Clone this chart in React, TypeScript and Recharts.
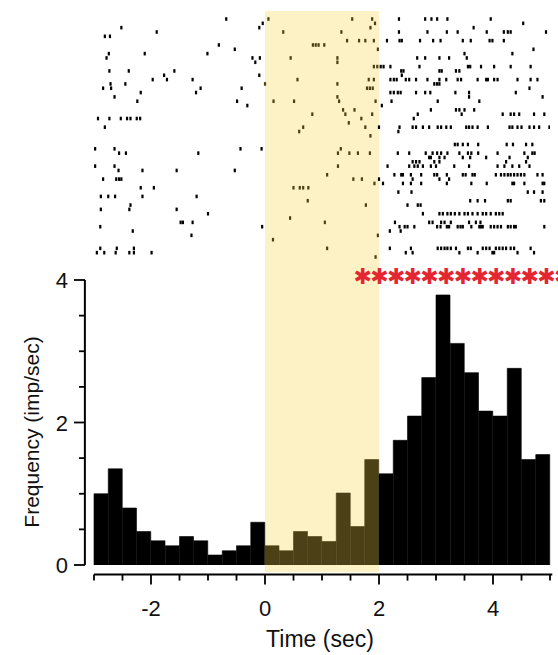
import React from 'react';
import {
  ScatterChart,
  Scatter,
  BarChart,
  Bar,
  Cell,
  XAxis,
  YAxis,
  ReferenceArea,
  ReferenceLine,
  Customized,
} from 'recharts';

// PSTH bins (bin start, sec) and firing rate (imp/sec)
const binStarts = [
  -3, -2.75, -2.5, -2.25, -2, -1.75, -1.5, -1.25, -1, -0.75, -0.5, -0.25,
  0, 0.25, 0.5, 0.75, 1, 1.25, 1.5, 1.75, 2, 2.25, 2.5, 2.75,
  3, 3.25, 3.5, 3.75, 4, 4.25, 4.5, 4.75,
];
const rates = [
  1.0, 1.35, 0.8, 0.47, 0.34, 0.27, 0.4, 0.34, 0.14, 0.2, 0.27, 0.6,
  0.27, 0.2, 0.47, 0.4, 0.33, 1.01, 0.54, 1.48, 1.28, 1.75, 2.09, 2.63,
  3.79, 3.11, 2.7, 2.16, 2.09, 2.76, 1.48, 1.55,
];

const xTicks = [-3, -2.5, -2, -1.5, -1, -0.5, 0, 0.5, 1, 1.5, 2, 2.5, 3, 3.5, 4, 4.5, 5];
const yTicks = [0, 0.5, 1, 1.5, 2, 2.5, 3, 3.5, 4];
const stimWindow = [0, 2];
const sigStarCount = 13;

// spike times (sec) per trial, top row first
const spikeTimes: number[][] = [
  [-0.68, 0.06, 1.53, 1.88, 2.35, 2.81, 2.92, 3.02, 3.2, 3.96],
  [-0.04, 1.93, 4.53],
  [-2.52, -0.1, 1.85, 3.66],
  [-1.9, 0.32, 1.34, 2.35, 2.85, 3.19, 3.38, 3.89, 4.19, 4.26, 4.31, 4.93],
  [-2.81, -2.72],
  [1.44, 1.65, 1.76, 1.91, 2.14, 2.36, 2.4, 2.72, 2.95, 3.08, 3.47, 3.61, 3.94, 3.99, 4.19],
  [-0.81, 0.84, 0.89, 0.94, 1.04],
  [-0.53, 1.98, 4.71],
  [-2.74, -2.11, -1.01, 3.5, 4.34],
  [-2.78, -0.22, -0.09, 0.45, 1.27, 2.67, 2.81, 3.06, 3.23, 3.54],
  [-0.17, 1.27],
  [1.91, 1.97, 2.03, 2.08, 2.2, 2.71, 3.56, 3.6, 3.79, 4.02, 4.31, 4.66],
  [-2.73, -2.39, -1.59, 2.39, 2.43, 3.06, 3.1, 3.35, 3.41],
  [-1.77, -0.1, 2.4],
  [-1.97, -1.72, -1.27, 0.57, 1.82, 1.91, 2.2, 2.26, 2.31, 2.47, 2.53, 2.65, 2.85, 3.06, 3.18, 3.38, 3.44, 3.73, 3.88, 3.91, 4.02, 4.08, 4.43, 4.66, 4.78],
  [-2.71, -2.45, 0.0, 1.27, 2.97, 3.02, 3.06],
  [-2.84, -2.7, -1.13, -0.41, 1.79, 1.84, 1.89, 4.64],
  [-2.18, -1.21, 2.2, 2.26, 2.33, 2.38, 2.65, 2.81, 2.9, 3.34, 3.58, 4.4],
  [-2.64, 1.27, 3.58, 4.87],
  [-2.24, -0.49, 0.15, 0.51, 1.3, 1.94, 2.22, 3.03, 3.76],
  [-0.31, 2.05],
  [1.37, 1.57, 2.91, 3.35, 3.41, 3.5, 3.67],
  [0.83, 1.41, 1.88, 2.68, 3.45, 4.17, 4.31, 4.37, 4.46, 4.72, 4.9],
  [-2.93, -2.73, -2.53, -2.42, -2.36, -2.25, -2.19, 1.69, 2.61],
  [1.47],
  [-2.81, 0.67, 1.76, 2.0, 2.36, 2.59, 2.65, 2.77, 2.88, 3.03, 3.09, 3.18, 3.26, 3.53, 3.58, 3.64, 3.73, 3.91, 4.29, 4.34, 4.43, 4.5, 4.64, 4.72, 4.81, 4.99],
  [0.6, 2.34],
  [1.85],
  [],
  [3.33, 3.38, 3.47, 3.56, 3.74, 4.24, 4.35, 4.58, 4.69],
  [-2.98, -2.64, -0.43, -0.06, 1.33],
  [-2.56, -2.44, -1.17, 1.28, 1.48, 1.63, 1.84, 2.33, 2.53, 2.82, 2.94, 3.02, 3.09, 3.2, 3.41, 3.56, 3.62, 3.74, 4.08, 4.55, 4.69, 4.73],
  [2.88, 2.91, 3.06, 3.15, 3.47, 3.6, 3.88, 4.29, 4.61],
  [2.59, 2.65, 2.71, 2.97, 3.06, 4.23, 4.58],
  [-2.98, -2.64, 1.28, 2.15, 2.53, 2.62, 2.68, 2.77, 2.91, 3.0, 3.32, 3.58, 4.08, 4.2, 4.34, 4.46, 4.64],
  [-2.57, -2.15, -1.55, -0.53],
  [1.09, 2.27, 2.39, 2.42, 2.56, 2.74, 2.97, 3.02, 3.19, 3.47, 3.52, 3.64, 3.68, 4.05, 4.14, 4.2, 4.26, 4.31, 4.37, 4.43, 4.49, 4.55, 4.78, 4.87],
  [-2.84, -2.61, -2.56, -2.52, 1.55, 1.7, 2.0, 2.59, 3.06, 3.23],
  [1.92, 2.07, 2.42, 2.56, 2.74, 3.19, 3.62, 3.89, 4.34, 4.37, 4.55, 4.87, 4.9],
  [-2.18, -1.95, 0.5, 0.61, 0.67, 0.76],
  [2.34, 2.57, 4.61, 4.72, 4.87],
  [-2.88, -2.75, -2.63, -2.15, -1.2],
  [0.75, 3.6, 3.73, 3.86, 4.26, 4.31, 4.84, 4.9],
  [-2.36, 1.77, 2.5, 2.68, 2.73],
  [-2.88, -2.38, -1.55],
  [-1.0, 2.77, 3.06, 3.12, 3.2, 3.26, 3.33, 3.41, 3.5, 3.56, 3.64, 3.73, 3.82, 3.88, 3.96, 4.05, 4.11, 4.17],
  [0.44],
  [-1.48, -1.44, -1.27, 1.05, 2.28, 2.88, 2.94, 3.09, 3.15, 3.26, 3.58, 3.7, 3.78],
  [-2.89, -0.05, 2.36, 2.45, 2.5, 2.62, 3.02, 3.08, 3.19, 3.23, 3.38, 3.43, 3.47, 3.62, 3.76, 3.79, 3.82, 3.96, 4.02, 4.08, 4.14, 4.26, 4.31, 4.37, 4.4, 4.9],
  [-2.32, 2.19, 2.38],
  [-1.29, 1.98],
  [0.14],
  [],
  [-2.89, -2.6, -2.3, 1.09, 2.19, 2.56, 3.03, 3.09, 3.15, 3.2, 3.26, 3.35, 3.56, 3.61, 3.82, 3.88, 3.94, 4.05, 4.11, 4.17, 4.23, 4.31, 4.37, 4.66],
  [-2.95, -2.82, -2.62, -2.38, -2.3, -1.99, 2.47, 2.59, 3.41, 3.73, 3.99, 4.02, 4.43, 4.72],
  [1.94],
];

const spikes = spikeTimes.flatMap((ts, trial) => ts.map((t) => ({ t, trial })));
const histData = binStarts.map((start, i) => ({ start, rate: rates[i] }));

const FONT = '"Liberation Sans", Arial, Helvetica, sans-serif';
const HIST_TOP = 265;
const X_AXIS_Y = 309.6; // offset axis, below the bars
const Y_AXIS_X = 85;
const BAND_FILL = '#fdf2c6';
const MARK_IN_BAND = '#4b4016';
const inBand = (t: number) => t >= stimWindow[0] && t < stimWindow[1];

const SpikeTick = (p: any) => (
  <rect
    x={p.cx - 1.1}
    y={p.cy - 1.8}
    width={2.2}
    height={3.6}
    fill={inBand(p.payload.t) ? MARK_IN_BAND : '#000'}
  />
);

const XTick = (props: any) => {
  const { x, payload } = props;
  const v = payload.value;
  const major = v % 2 === 0;
  return (
    <g>
      <line x1={x} x2={x} y1={X_AXIS_Y} y2={X_AXIS_Y + (major ? 10 : 6)} stroke="#000" strokeWidth={1.8} />
      {major && (
        <text x={x} y={351} textAnchor="middle" fontSize={22} fill="#111" fontFamily={FONT}>
          {v}
        </text>
      )}
    </g>
  );
};

const YTick = (props: any) => {
  const { y, payload } = props;
  const v = payload.value;
  const major = v % 2 === 0;
  return (
    <g>
      <line x1={Y_AXIS_X - (major ? 11 : 6)} x2={Y_AXIS_X} y1={y} y2={y} stroke="#000" strokeWidth={1.8} />
      {major && (
        <text x={68} y={y + 8} textAnchor="end" fontSize={22} fill="#111" fontFamily={FONT}>
          {v}
        </text>
      )}
    </g>
  );
};

const Annotations = () => (
  <g>
    <text
      x={31}
      y={167}
      transform="rotate(-90, 31, 167)"
      textAnchor="middle"
      dominantBaseline="central"
      fontSize={21}
      fill="#111"
      fontFamily={FONT}
    >
      Frequency (imp/sec)
    </text>
    <text x={320} y={382} textAnchor="middle" fontSize={23} fill="#111" fontFamily={FONT}>
      Time (sec)
    </text>
  </g>
);

// significance stars, one glyph each, drawn over the band
const starSpan = (i: number): React.CSSProperties => ({
  position: 'absolute',
  top: HIST_TOP,
  left: 352.7 + i * 16.7,
  width: 20,
  textAlign: 'center',
  color: '#e3262f',
  fontFamily: '"DejaVu Sans", sans-serif',
  fontSize: 22,
  lineHeight: '24px',
});

export default function App() {
  return (
    <div
      style={{
        position: 'absolute',
        left: 0,
        top: 0,
        width: 558,
        height: 655,
        overflow: 'hidden',
        background: '#fff',
        fontFamily: FONT,
      }}
    >
      <div style={{ position: 'absolute', left: 0, top: 0 }}>
        <ScatterChart width={558} height={HIST_TOP} margin={{ top: 11, right: 8, bottom: 0, left: 94 }}>
          <XAxis type="number" dataKey="t" domain={[-3, 5]} hide allowDataOverflow />
          <YAxis type="number" dataKey="trial" domain={[-1.85, 56.85]} reversed hide allowDataOverflow />
          <ReferenceArea x1={stimWindow[0]} x2={stimWindow[1]} fill={BAND_FILL} fillOpacity={1} stroke="none" />
          <Scatter data={spikes} shape={SpikeTick} isAnimationActive={false} />
        </ScatterChart>
      </div>
      <div style={{ position: 'absolute', left: 0, top: HIST_TOP }}>
        <BarChart
          width={558}
          height={655 - HIST_TOP}
          data={histData}
          margin={{ top: 15, right: 8, bottom: 30, left: 34 }}
          barCategoryGap={0}
          barGap={0}
        >
          <XAxis xAxisId="bins" dataKey="start" type="category" hide />
          <XAxis
            xAxisId="t"
            dataKey="start"
            type="number"
            domain={[-3, 5]}
            ticks={xTicks}
            interval={0}
            tick={XTick}
            axisLine={false}
            tickLine={false}
            height={60}
            allowDataOverflow
          />
          <YAxis
            type="number"
            domain={[0, 4]}
            ticks={yTicks}
            interval={0}
            tick={YTick}
            axisLine={false}
            tickLine={false}
            width={60}
            allowDataOverflow
          />
          <ReferenceArea
            xAxisId="t"
            x1={stimWindow[0]}
            x2={stimWindow[1]}
            y1={-0.1}
            y2={4.22}
            ifOverflow="visible"
            fill={BAND_FILL}
            fillOpacity={1}
            stroke="none"
          />
          <Bar xAxisId="bins" dataKey="rate" strokeWidth={0.6} isAnimationActive={false}>
            {histData.map((d) => {
              const c = inBand(d.start) ? MARK_IN_BAND : '#000';
              return <Cell key={d.start} fill={c} stroke={c} />;
            })}
          </Bar>
          <ReferenceLine
            xAxisId="t"
            segment={[{ x: -3.16, y: 0 }, { x: -3.16, y: 4 }]}
            ifOverflow="visible"
            stroke="#000"
            strokeWidth={2}
          />
          <ReferenceLine
            xAxisId="t"
            segment={[{ x: -3, y: -0.135 }, { x: 5.04, y: -0.135 }]}
            ifOverflow="visible"
            stroke="#000"
            strokeWidth={2}
          />
          <Customized component={Annotations} />
        </BarChart>
      </div>
      {Array.from({ length: sigStarCount }).map((_, i) => (
        <span key={i} style={starSpan(i)}>
          ✱
        </span>
      ))}
    </div>
  );
}
